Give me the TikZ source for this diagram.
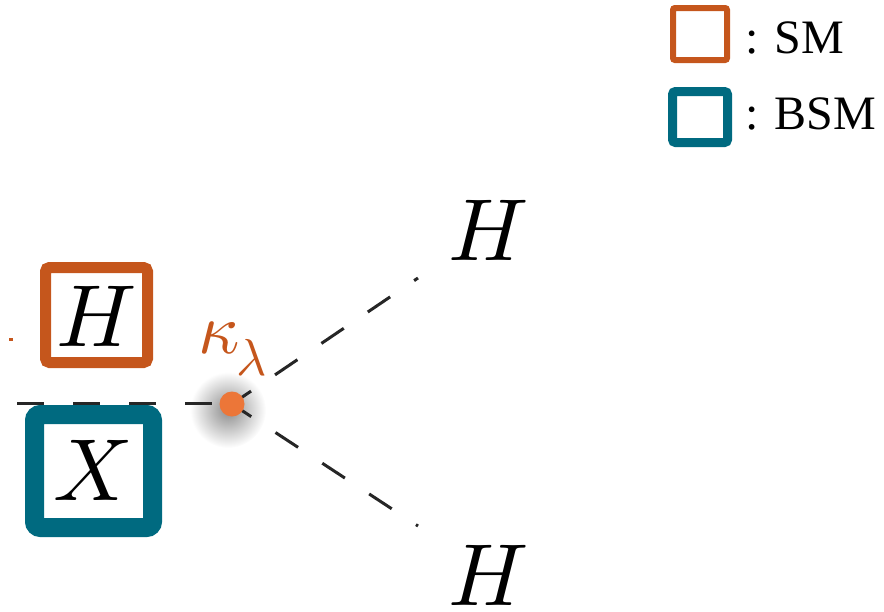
\documentclass[tikz,border=0pt]{standalone}
\usepackage{fontspec}
\setmainfont{Liberation Serif}
\DeclareFontShape{OML}{cmm}{m}{it}{<->cmmi10}{}
\DeclareFontShape{OML}{cmm}{b}{it}{<->cmmib10}{}
\usetikzlibrary{positioning}
\definecolor{smorange}{RGB}{197,86,28}
\definecolor{bsmteal}{RGB}{0,106,128}
\definecolor{dotorange}{RGB}{236,118,56}
\newcommand{\kaplam}{{\fontsize{72}{72}\selectfont$\kappa$}\hspace{-3pt}\raisebox{-22pt}{\fontsize{52}{52}\selectfont$\lambda$}}
\tikzset{
  prop/.style={draw=black!85, line width=3pt, dash pattern=on 27pt off 29pt},
  bigmath/.style={inner sep=0pt, font=\fontsize{88}{90}\selectfont},
  legtext/.style={anchor=base west, inner sep=0pt, font=\fontsize{48}{50}\selectfont},
}
\begin{document}
\begin{tikzpicture}[x=1pt,y=-1pt]
\useasboundingbox (0,0) rectangle (884,611);
% vertex shadow
\shade[inner color=black!45, outer color=white] (228,410) circle (38);
% coordinates
\coordinate (v) at (232,404);
\coordinate (left) at (17,403);
\coordinate (e1) at (418,278);
\coordinate (e2) at (418,526);
% propagators
\draw[prop, dash phase=0pt] (left) -- (232,403);
\draw[prop, dash phase=4pt] (v) -- (e1);
\draw[prop, dash phase=4pt] (v) -- (e2);
% vertex
\node[circle, fill=dotorange, minimum size=25pt, inner sep=0pt] (vtx) at (v) {};
\node[text=smorange, inner sep=0pt, anchor=base west] (kl) at (198,353) {\kaplam};
% outgoing labels
\node[bigmath] (H1) at (489,230) {$H$};
\node[bigmath] (H2) at (489,575) {$H$};
% boxed H and X
\draw[smorange, line width=11pt, rounded corners=4pt] (45.5,267.5) rectangle (147.5,362.5);
\node[bigmath] (Hsm) at (97,316) {$H$};
\draw[bsmteal, line width=19pt, rounded corners=6pt] (34.5,414.5) rectangle (152.5,527.5);
\node[bigmath] (Xbsm) at (93,470) {$X$};
% small mark
\fill[smorange] (9,338) rectangle (13,341);
% legend
\draw[smorange, line width=6pt, rounded corners=2pt] (673,8) rectangle (727,60);
\node[legtext] (sm) at (745,53) {: SM};
\draw[bsmteal, line width=9pt, rounded corners=3pt] (672.5,91.5) rectangle (727.5,142.5);
\node[legtext] (bsm) at (745,129) {: BSM};
\end{tikzpicture}
\end{document}
